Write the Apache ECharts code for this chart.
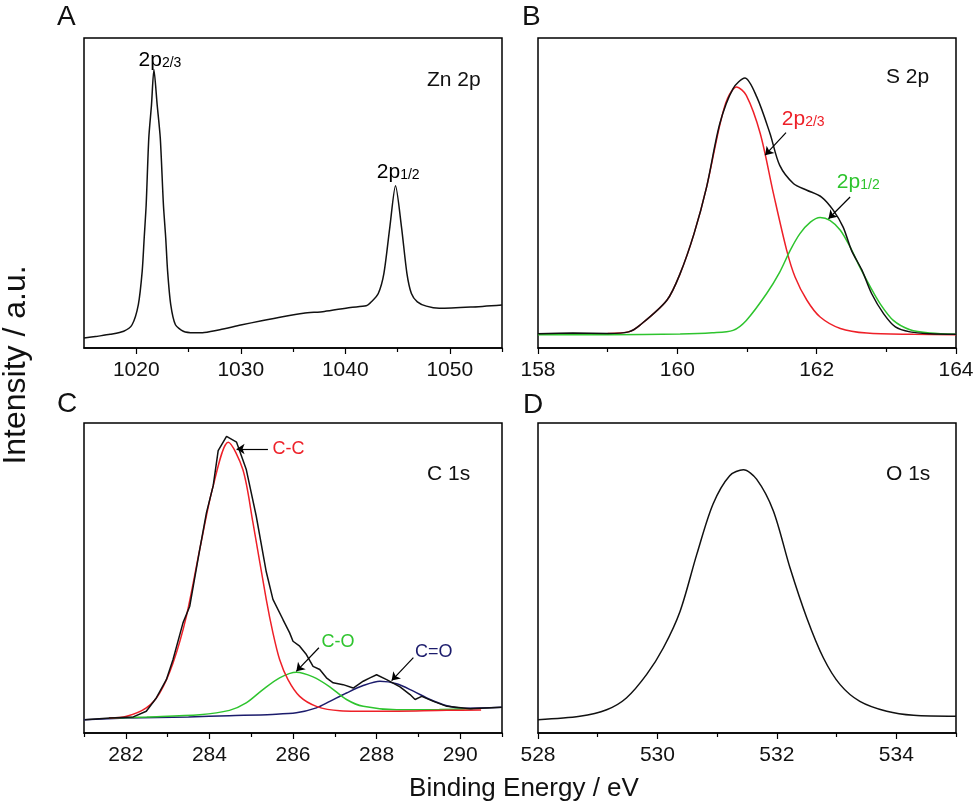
<!DOCTYPE html>
<html>
<head>
<meta charset="utf-8">
<script src="https://cdn.jsdelivr.net/npm/echarts@6/dist/echarts.min.js"></script>
<style>
  html, body { margin: 0; padding: 0; background: #fff; }
  #chart { width: 980px; height: 808px; }
</style>
</head>
<body>
<div id="chart"></div>
<script>
// values, intensity in arbitrary units (0 = bottom of frame, 100 = top)

// A: Zn 2p
const znEnergy = [1015, 1016.3, 1017.5, 1018.8, 1019.6, 1020.2, 1020.57, 1020.76, 1020.95, 1021.2, 1021.46, 1021.69,
  1022.0, 1022.3, 1022.6, 1022.82, 1023.0, 1023.3, 1023.75, 1024.5, 1025.5, 1026.5, 1028, 1030, 1032, 1034, 1036,
  1038, 1040.5, 1042, 1042.5, 1043.16, 1043.7, 1044.27, 1044.81, 1045.38, 1045.9, 1046.33, 1046.9, 1047.76, 1049,
  1052, 1055];
const znIntensity = [3.2, 3.8, 4.4, 5.4, 7.5, 14, 24.8, 35.5, 46.2, 67.7, 78.5, 89.8,
  78.5, 67.7, 46.2, 35.5, 24.8, 14, 7.5, 5.4, 4.9, 5.0, 5.9, 7.4, 8.8, 10.1, 11.2,
  11.8, 13.1, 13.6, 14.9, 17.6, 24.1, 39.1, 52.3, 39.1, 24.1, 17.6, 14.9, 13.5, 12.8,
  13.2, 13.9];

// B: S 2p
const sTotalEnergy = [158, 158.5, 159, 159.3, 159.46, 159.85, 160.04, 160.24, 160.42, 160.61, 160.8, 160.97, 161.14,
  161.33, 161.47, 161.67, 161.86, 162.07, 162.24, 162.38, 162.5, 162.65, 162.79, 162.96, 163.13, 163.34, 163.63, 164];
const sTotalIntensity = [4.6, 4.8, 4.7, 5.2, 7.3, 15.4, 24, 36.9, 51.9, 72.4, 83.7, 87.1, 81,
  69.2, 58.9, 53, 50.9, 48.7, 44.4, 39, 31.5, 25.1, 17.5, 11.1, 6.8, 5.2, 4.6, 4.4];
const s32Energy = [158, 159, 159.3, 159.46, 159.85, 160.04, 160.24, 160.42, 160.61, 160.72, 160.85, 160.99, 161.19,
  161.38, 161.57, 161.69, 161.86, 162.05, 162.34, 162.72, 163.39, 164];
const s32Intensity = [4.6, 4.7, 5.2, 7.3, 15.4, 24, 36.9, 51.9, 72.0, 80.5, 84.2, 81.5, 69.2,
  49.8, 31.5, 22.9, 15.4, 10, 6.3, 4.8, 4.4, 4.3];
const s12Energy = [158, 159, 160.04, 160.5, 160.8, 160.99, 161.28, 161.47, 161.62, 161.76, 161.91, 162.05, 162.19,
  162.34, 162.48, 162.62, 162.77, 162.91, 163.1, 163.34, 163.63, 164];
const s12Intensity = [4.3, 4.3, 4.5, 4.9, 5.7, 8.9, 17.5, 24.5, 31.5, 36.9, 40.6, 42.1, 41.2,
  38, 32.6, 26.1, 19.7, 14.3, 8.9, 5.9, 4.8, 4.4];

// C: C 1s
const cTotalEnergy = [281.02, 281.62, 282.18, 282.49, 282.73, 282.97, 283.13, 283.37, 283.53, 283.77, 283.93, 284.09,
  284.21, 284.41, 284.65, 284.88, 285.12, 285.36, 285.52, 285.76, 285.92, 286.0, 286.16, 286.32, 286.48, 286.64,
  286.8, 286.96, 287.2, 287.44, 287.68, 287.84, 288.0, 288.24, 288.56, 288.8, 288.92, 289.08, 289.36, 289.68, 290.24, 291];
const cTotalIntensity = [4.3, 4.8, 5.2, 7.0, 11.3, 17.2, 23.7, 35.6, 40.9, 59.3, 71.1, 79.7,
  91.1, 95.7, 93.8, 85.1, 70, 52, 43.1, 36.6, 32.3, 29.6, 28, 25.3, 21.5, 20.5,
  17.8, 16.2, 15.6, 14.5, 16.7, 17.8, 18.8, 17.2, 14.9, 12.4, 10.8, 11.8, 10.2, 8.6, 7.8, 8.3];
const ccEnergy = [281.6, 282.02, 282.49, 282.81, 283.13, 283.45, 283.77, 284.09, 284.45, 284.8, 285.04, 285.36, 285.52,
  285.68, 285.88, 286.16, 286.56, 287.12, 288.08, 289.68, 290.5];
const ccIntensity = [4.8, 5.4, 8.1, 12.9, 22.6, 37.7, 59.3, 79.7, 93.8, 85, 68, 43.1, 32.3,
  23.7, 17.2, 11.8, 8.6, 7.2, 7.0, 7.3, 7.4];
const coEnergy = [281.6, 282.5, 283.77, 284.48, 284.88, 285.28, 285.68, 286.08, 286.48, 286.88, 287.28, 287.68, 288.48,
  289.5, 290.3];
const coIntensity = [4.8, 5.2, 5.9, 7.3, 9.7, 14, 17.8, 19.6, 18.1, 14.9, 10.8, 8.6, 7.5,
  7.6, 7.8];
const cdoEnergy = [281.0, 282.0, 283.5, 284.48, 285.5, 286.08, 286.56, 286.88, 287.28, 287.68, 288.08, 288.48, 288.88,
  289.28, 289.68, 290.08, 291.0];
const cdoIntensity = [4.3, 4.8, 5.2, 5.6, 6.0, 6.5, 8.1, 10.2, 12.9, 15.3, 16.7, 15.9, 13.5,
  10.8, 8.8, 8.0, 8.3];

// D: O 1s
const oEnergy = [528, 528.7, 529.15, 529.48, 529.82, 530.1, 530.38, 530.66, 530.93, 531.21, 531.44, 531.66, 531.94,
  532.22, 532.5, 532.78, 533.06, 533.39, 533.84, 534.29, 535];
const oIntensity = [4.3, 5.4, 7.5, 11.3, 18.9, 27.5, 39.3, 57.7, 73.8, 83, 84.9, 81.9, 71.7,
  53.3, 37.2, 24.2, 15.6, 10.2, 7, 5.7, 5.4];

// tick labels
const znTicks = [1020, 1030, 1040, 1050];
const znMinor = [1025, 1035, 1045, 1055];
const sTicks = [158, 160, 162, 164];
const sMinor = [159, 161, 163];
const cTicks = [282, 284, 286, 288, 290];
const cMinor = [281, 283, 285, 287, 289, 291];
const oTicks = [528, 530, 532, 534];
const oMinor = [529, 531, 533, 535];

const FONT = 'Liberation Sans, Arial, sans-serif';
const RED = '#ee2028';
const GREEN = '#2ec42e';
const NAVY = '#1c1c6c';
const BLACK = '#111';

const pts = (xs, ys) => xs.map((x, i) => [x, ys[i]]);

const chart = echarts.init(document.getElementById('chart'));

function grid(left, top) {
  return {
    left: left, top: top, width: 418, height: 310,
    show: true, borderColor: '#000', borderWidth: 1.5, backgroundColor: 'transparent'
  };
}

function energyAxes(gridIndex, min, max, ticks, minor) {
  return [
    {
      type: 'value', gridIndex: gridIndex, min: min, max: max, position: 'bottom',
      axisLine: { show: true, onZero: false, lineStyle: { color: '#000', width: 1.5 } },
      axisTick: { show: true, inside: false, length: 6, customValues: ticks, lineStyle: { color: '#000', width: 1.2 } },
      axisLabel: {
        customValues: ticks, margin: 12, fontSize: 21, color: '#111', fontFamily: FONT,
        formatter: v => String(v)
      },
      splitLine: { show: false }
    },
    {
      type: 'value', gridIndex: gridIndex, min: min, max: max, position: 'bottom',
      axisLine: { show: false },
      axisTick: { show: true, inside: false, length: 4, customValues: minor, lineStyle: { color: '#000', width: 1.2 } },
      axisLabel: { show: false },
      splitLine: { show: false }
    }
  ];
}

function intensityAxis(gridIndex) {
  return { type: 'value', gridIndex: gridIndex, min: 0, max: 100, show: false };
}

function curve(axisIndex, data, color, smooth) {
  return {
    type: 'line', xAxisIndex: axisIndex, yAxisIndex: axisIndex / 2, data: data,
    showSymbol: false, smooth: smooth,
    lineStyle: { color: color, width: 1.5 }, silent: true, z: 3
  };
}

function arrow(from, to) {
  return [{ coord: from }, { coord: to }];
}

function arrows(list) {
  return {
    silent: true, animation: false, symbol: ['none', 'arrow'], symbolSize: 8,
    lineStyle: { color: '#000', width: 1.2, type: 'solid' },
    label: { show: false },
    data: list
  };
}

function tags(list) {
  return {
    silent: true, animation: false, symbolSize: 0,
    data: list.map(t => ({
      coord: t.at,
      label: {
        show: true, position: [0, 0], align: 'left', verticalAlign: 'middle',
        formatter: t.sub ? '{m|' + t.text + '}{s|' + t.sub + '}' : '{m|' + t.text + '}',
        rich: {
          m: { fontSize: t.size || 21, lineHeight: 20, color: t.color, fontFamily: FONT },
          s: { fontSize: 14, lineHeight: 6, verticalAlign: 'bottom', color: t.color, fontFamily: FONT }
        }
      }
    }))
  };
}

const znSeries = curve(0, pts(znEnergy, znIntensity), BLACK, 0.25);
znSeries.markPoint = tags([
  { at: [1020.22, 92.9], text: '2p', sub: '2/3', color: '#000' },
  { at: [1043.02, 56.6], text: '2p', sub: '1/2', color: '#000' }
]);

const sTotalSeries = curve(2, pts(sTotalEnergy, sTotalIntensity), BLACK, 0.3);
sTotalSeries.markLine = arrows([
  arrow([161.56, 69.5], [161.26, 62.2]),
  arrow([162.48, 48.7], [162.17, 41.7])
]);
sTotalSeries.markPoint = tags([
  { at: [161.5, 73.8], text: '2p', sub: '2/3', color: RED },
  { at: [162.29, 53.5], text: '2p', sub: '1/2', color: GREEN }
]);

const cTotalSeries = curve(4, pts(cTotalEnergy, cTotalIntensity), BLACK, false);
cTotalSeries.markLine = arrows([
  arrow([285.4, 91.6], [284.65, 91.6]),
  arrow([286.62, 27.5], [286.08, 19.9]),
  arrow([288.88, 24.3], [288.36, 16.9])
]);
cTotalSeries.markPoint = tags([
  { at: [285.51, 91.6], text: 'C-C', color: RED, size: 18 },
  { at: [286.68, 29.4], text: 'C-O', color: GREEN, size: 18 },
  { at: [288.92, 26.1], text: 'C=O', color: NAVY, size: 18 }
]);

function plainText(x, y, text, size, align) {
  return {
    type: 'text', x: x, y: y, silent: true,
    style: { text: text, fontSize: size, fontFamily: FONT, fill: '#111', align: align || 'left', verticalAlign: 'middle' }
  };
}

chart.setOption({
  animation: false,
  backgroundColor: '#fff',
  grid: [grid(84, 38), grid(538, 38), grid(84, 423), grid(538, 423)],
  xAxis: [].concat(
    energyAxes(0, 1015, 1055, znTicks, znMinor),
    energyAxes(1, 158, 164, sTicks, sMinor),
    energyAxes(2, 281, 291, cTicks, cMinor),
    energyAxes(3, 528, 535, oTicks, oMinor)
  ),
  yAxis: [intensityAxis(0), intensityAxis(1), intensityAxis(2), intensityAxis(3)],
  series: [
    znSeries,
    curve(2, pts(s32Energy, s32Intensity), RED, 0.3),
    curve(2, pts(s12Energy, s12Intensity), GREEN, 0.3),
    sTotalSeries,
    curve(4, pts(cdoEnergy, cdoIntensity), NAVY, 0.3),
    curve(4, pts(coEnergy, coIntensity), GREEN, 0.3),
    curve(4, pts(ccEnergy, ccIntensity), RED, 0.3),
    cTotalSeries,
    curve(6, pts(oEnergy, oIntensity), BLACK, 0.3)
  ],
  graphic: [
    plainText(57, 17, 'A', 28),
    plainText(522, 17, 'B', 28),
    plainText(57, 404, 'C', 28),
    plainText(523, 405, 'D', 28),
    plainText(427, 80, 'Zn 2p', 21),
    plainText(886, 77, 'S 2p', 21),
    plainText(427, 474, 'C 1s', 21),
    plainText(886, 474, 'O 1s', 21),
    plainText(524, 789, 'Binding Energy / eV', 26, 'center'),
    {
      type: 'text', x: 16, y: 365, rotation: Math.PI / 2, silent: true,
      style: { text: 'Intensity / a.u.', fontSize: 32, fontFamily: FONT, fill: '#111', align: 'center', verticalAlign: 'middle' }
    }
  ]
});
</script>
</body>
</html>
